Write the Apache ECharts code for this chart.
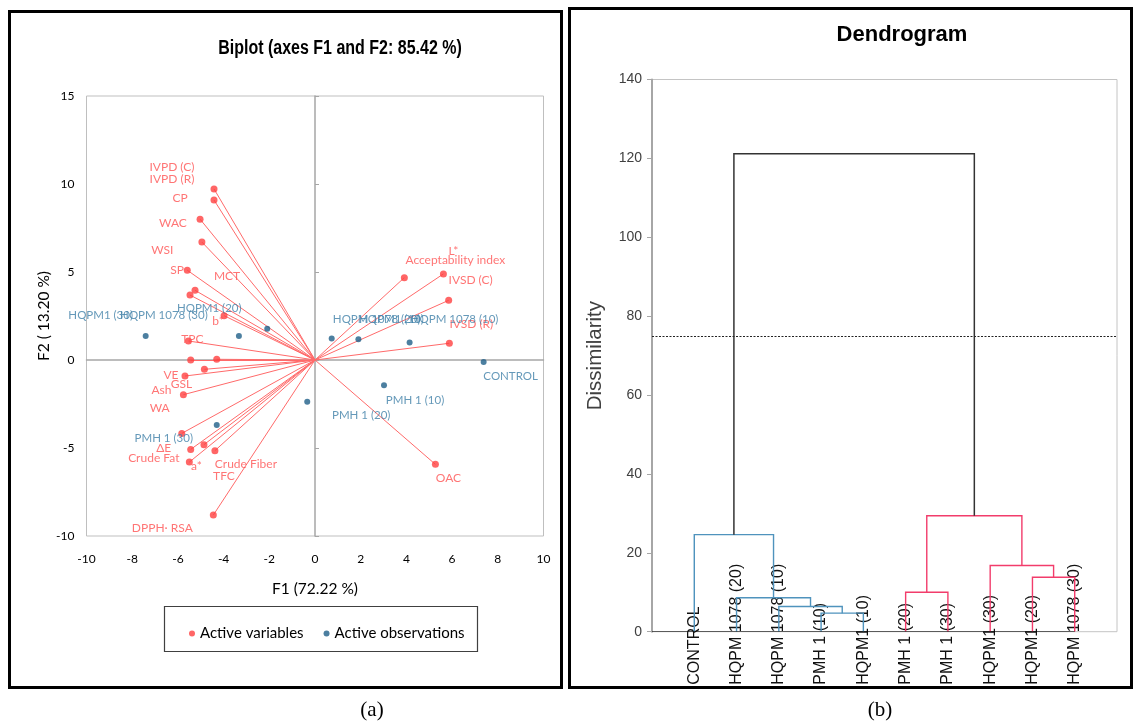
<!DOCTYPE html>
<html><head><meta charset="utf-8">
<script src="https://cdn.jsdelivr.net/npm/echarts@6/dist/echarts.min.js"></script>
<style>html,body{margin:0;padding:0;background:#fff}#c{width:1134px;height:722px}</style>
</head><body><div id="c"></div>
<script>
// ---------- Biplot data ----------
const varNames = ['IVPD (C)','IVPD (R)','CP','WAC','WSI','SP','MCT','b*','TPC','WA','','GSL','VE','Ash','Crude Fat','TFC','ΔE','Crude Fiber','a*','DPPH· RSA','L*','Acceptability index','IVSD (C)','IVSD (R)','OAC'];
const varF1 = [-4.42,-4.42,-5.03,-4.95,-5.59,-5.25,-5.47,-3.98,-5.54,-5.44,-4.30,-4.84,-5.69,-5.76,-5.83,-4.86,-5.44,-4.38,-5.50,-4.45,5.62,3.91,5.85,5.88,5.27];
const varF2 = [9.72,9.09,8.00,6.70,5.10,3.96,3.69,2.52,1.08,0.00,0.04,-0.53,-0.91,-1.97,-4.17,-4.81,-5.08,-5.15,-5.80,-8.81,4.89,4.68,3.39,0.95,-5.93];
const obsNames = ['HQPM1 (30)','HQPM 1078 (30)','HQPM1 (20)','HQPM 1078 (20)','HQPM1 (10)','HQPM 1078 (10)','CONTROL','PMH 1 (10)','PMH 1 (20)','PMH 1 (30)'];
const obsF1 = [-7.41,-3.33,-2.09,0.73,1.90,4.14,7.38,3.02,-0.34,-4.30];
const obsF2 = [1.36,1.36,1.78,1.22,1.18,1.00,-0.11,-1.44,-2.37,-3.69];
const f1Ticks = [-10,10,2];   // min, max, step
const f2Ticks = [-10,15,5];

// ---------- Dendrogram data ----------
const leaves = ['CONTROL','HQPM 1078 (20)','HQPM 1078 (10)','PMH 1 (10)','HQPM1 (10)','PMH 1 (20)','PMH 1 (30)','HQPM1 (30)','HQPM1 (20)','HQPM 1078 (30)'];
// each merge: [clusterA, clusterB, height]; leaves are 0..9, merges create ids 10,11,...
const merges = [[3,4,4.7],[2,10,6.4],[1,11,8.6],[0,12,24.6],[5,6,10.0],[8,9,13.8],[7,15,16.8],[14,16,29.4],[13,17,121.2]];
const truncation = 75;
const dissimTicks = [0,140,20];

// ---------- label placement (style, px) ----------
const varLabelOffsets = [[-42,-22],[-42,-21],[-20,-21],[-29,-19],[-25,-20],[-18,-20],[37,-19],[-6,5],[4,-2],[-31,48],[0,0],[-23,15],[-14,-1],[-22,-5],[-28,25],[20,31],[-27,-1],[31,13],[7,4],[-51,13],[10,-23],[51,-18],[22,-20],[22,-19],[13,14]];
const obsLabelOffsets = [[-45,-21],[-75,-21],[-58,-20],[45,-19],[33,-20],[45,-23],[27,14],[31,15],[54,14],[-53,13]];

const CAL = "Lato,'Liberation Sans',sans-serif";
const ARIAL = "'Liberation Sans',Arial,sans-serif";
const RED = '#ff4040', REDL = '#ff5252', BLUE = '#1f5f88', BLUEL = '#3f7fa8';
const DBLUE = '#4f93bd', DRED = '#f23c6b';

// dendrogram geometry from merges
const nodeX = leaves.map((_, i) => i + 1);
const nodeH = leaves.map(() => 0);
const children = {};
merges.forEach((m, k) => {
  const id = leaves.length + k;
  nodeX[id] = (nodeX[m[0]] + nodeX[m[1]]) / 2;
  nodeH[id] = m[2];
  children[id] = [m[0], m[1]];
});
const rootId = leaves.length + merges.length - 1;
const branchColor = {};
function paint(id, col) { branchColor[id] = col; if (children[id]) children[id].forEach(c => paint(c, col)); }
paint(children[rootId][0], DBLUE);
paint(children[rootId][1], DRED);
branchColor[rootId] = '#333333';
const dendroLines = merges.map((m, k) => {
  const id = leaves.length + k;
  const a = m[0], b = m[1], h = m[2];
  return { coords: [[nodeX[a], nodeH[a]], [nodeX[a], h], [nodeX[b], h], [nodeX[b], nodeH[b]]],
           lineStyle: { color: branchColor[id], width: id === rootId ? 1.5 : 1.4, opacity: 1 } };
});

const chart = echarts.init(document.getElementById('c'));
chart.setOption({
  animation: false,
  backgroundColor: '#fff',
  legend: {
    left: 184, top: 621, itemWidth: 6, itemHeight: 6, itemGap: 20, icon: 'circle',
    data: ['Active variables', 'Active observations'],
    textStyle: { fontFamily: CAL, fontSize: 15, color: '#000' }
  },
  grid: [
    { left: 86.5, top: 96, width: 457, height: 440, show: true, borderColor: '#bfbfbf', borderWidth: 1, containLabel: false },
    { left: 652, top: 79.5, right: 17, bottom: 90.3, show: true, borderColor: '#c4c4c4', borderWidth: 1, containLabel: false }
  ],
  xAxis: [
    { gridIndex: 0, type: 'value', min: f1Ticks[0], max: f1Ticks[1], interval: f1Ticks[2],
      axisLine: { show: false, onZero: false }, axisTick: { show: false }, splitLine: { show: false },
      axisLabel: { margin: 17, fontFamily: CAL, fontSize: 12, color: '#000' },
      name: 'F1 (72.22 %)', nameLocation: 'middle', nameGap: 45,
      nameTextStyle: { fontFamily: CAL, fontSize: 15.5, color: '#000' } },
    { gridIndex: 0, type: 'value', min: f1Ticks[0], max: f1Ticks[1], interval: f1Ticks[2], position: 'bottom',
      axisLine: { show: true, onZero: true, lineStyle: { color: '#a6a6a6', width: 1.5 } },
      axisTick: { show: false }, axisLabel: { show: false }, splitLine: { show: false } },
    { gridIndex: 1, type: 'value', min: 0, max: leaves.length + 1, interval: 1,
      axisLine: { show: false }, axisTick: { show: false }, splitLine: { show: false },
      axisLabel: { show: true, rotate: 90, align: 'left', verticalAlign: 'middle', margin: 53,
        fontFamily: ARIAL, fontSize: 16, color: '#111',
        formatter: v => leaves[Math.round(v) - 1] || '' } }
  ],
  yAxis: [
    { gridIndex: 0, type: 'value', min: f2Ticks[0], max: f2Ticks[1], interval: f2Ticks[2],
      axisLine: { show: false, onZero: false }, axisTick: { show: false }, splitLine: { show: false },
      axisLabel: { margin: 12, fontFamily: CAL, fontSize: 12, color: '#000' },
      name: 'F2 ( 13.20 %)', nameLocation: 'middle', nameGap: 34, nameRotate: 90,
      nameTextStyle: { fontFamily: CAL, fontSize: 15.5, color: '#000' } },
    { gridIndex: 0, type: 'value', min: f2Ticks[0], max: f2Ticks[1], interval: f2Ticks[2],
      axisLine: { show: true, onZero: true, lineStyle: { color: '#a6a6a6', width: 1.5 } },
      axisTick: { show: true, length: 4, lineStyle: { color: '#a6a6a6' } },
      axisLabel: { show: false }, splitLine: { show: false } },
    { gridIndex: 1, type: 'value', min: dissimTicks[0], max: dissimTicks[1], interval: dissimTicks[2],
      axisLine: { show: true, lineStyle: { color: '#a6a6a6', width: 2 } },
      axisTick: { show: true, length: 5, lineStyle: { color: '#a6a6a6' } },
      splitLine: { show: false },
      axisLabel: { margin: 10, fontFamily: ARIAL, fontSize: 14, color: '#404040' },
      name: 'Dissimilarity', nameLocation: 'middle', nameGap: 46, nameRotate: 90,
      nameTextStyle: { fontFamily: ARIAL, fontSize: 20.5, color: '#404040' } }
  ],
  series: [
    { type: 'lines', coordinateSystem: 'cartesian2d', xAxisIndex: 0, yAxisIndex: 0, silent: true, z: 2,
      lineStyle: { color: '#ff6a6a', width: 1, opacity: 1 },
      data: varF1.map((x, i) => ({ coords: [[0, 0], [x, varF2[i]]] })) },
    { name: 'Active variables', type: 'scatter', xAxisIndex: 0, yAxisIndex: 0, z: 4,
      symbolSize: 7, itemStyle: { color: RED },
      label: { show: true, position: 'inside', formatter: '{b}', color: REDL, fontFamily: CAL, fontSize: 12 },
      data: varF1.map((x, i) => ({ name: varNames[i], value: [x, varF2[i]], label: { offset: varLabelOffsets[i] } })) },
    { name: 'Active observations', type: 'scatter', xAxisIndex: 0, yAxisIndex: 0, z: 5,
      symbolSize: 6, itemStyle: { color: BLUE },
      label: { show: true, position: 'inside', formatter: '{b}', color: BLUEL, fontFamily: CAL, fontSize: 11.5 },
      data: obsF1.map((x, i) => ({ name: obsNames[i], value: [x, obsF2[i]], label: { offset: obsLabelOffsets[i] } })) },
    { type: 'lines', coordinateSystem: 'cartesian2d', xAxisIndex: 2, yAxisIndex: 2, polyline: true, silent: true, z: 3,
      lineStyle: { opacity: 1 },
      data: dendroLines },
    { type: 'lines', coordinateSystem: 'cartesian2d', xAxisIndex: 2, yAxisIndex: 2, silent: true, z: 4,
      lineStyle: { opacity: 1 },
      data: [
        { coords: [[0, truncation], [leaves.length + 1, truncation]], lineStyle: { color: '#222', width: 1.2, type: [2, 1.5], opacity: 1 } },
        { coords: [[0, 0], [leaves.length, 0]], lineStyle: { color: '#000', width: 1.6, opacity: 1 } }
      ] }
  ],
  graphic: [
    { type: 'rect', shape: { x: 9.5, y: 11.5, width: 552, height: 676 }, style: { fill: 'none', stroke: '#000', lineWidth: 3 } },
    { type: 'rect', shape: { x: 569.5, y: 8.5, width: 562, height: 679 }, style: { fill: 'none', stroke: '#000', lineWidth: 3 } },
    { type: 'rect', shape: { x: 164.5, y: 606.5, width: 313, height: 45 }, style: { fill: 'none', stroke: '#404040', lineWidth: 1.2 } },
    { type: 'text', x: 340, y: 48, scaleX: 0.8,
      style: { text: 'Biplot (axes F1 and F2: 85.42 %)', font: "bold 20px 'Liberation Sans', Arial, sans-serif", fill: '#000', textAlign: 'center', textVerticalAlign: 'middle' } },
    { type: 'text', x: 902, y: 35,
      style: { text: 'Dendrogram', font: "bold 22px 'Liberation Sans', Arial, sans-serif", fill: '#000', textAlign: 'center', textVerticalAlign: 'middle' } },
    { type: 'text', x: 372, y: 710, style: { text: '(a)', font: "21px 'Liberation Serif', serif", fill: '#000', textAlign: 'center', textVerticalAlign: 'middle' } },
    { type: 'text', x: 880, y: 710, style: { text: '(b)', font: "21px 'Liberation Serif', serif", fill: '#000', textAlign: 'center', textVerticalAlign: 'middle' } }
  ]
});
</script>
</body></html>
